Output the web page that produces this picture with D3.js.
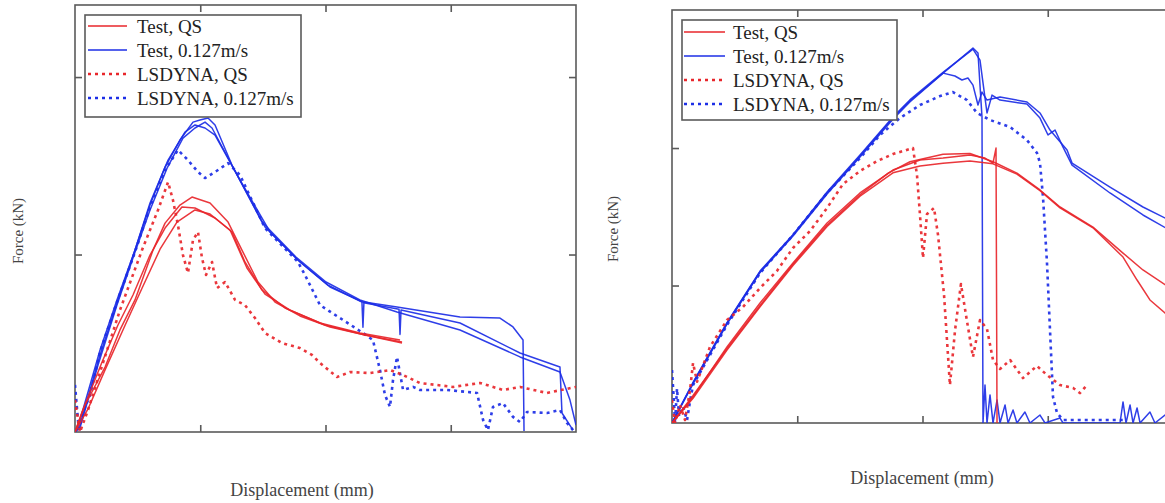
<!DOCTYPE html>
<html>
<head>
<meta charset="utf-8">
<script src="https://cdn.jsdelivr.net/npm/d3@7"></script>
<style>
html,body{margin:0;padding:0;background:#fff;overflow:hidden;}
svg{display:block;}
</style>
</head>
<body>
<svg id="chart" width="1165" height="503"></svg>
<script>
// ---------- tick values (no labels shown in the original) ----------
const xTicks = [0, 10, 20, 30, 40];
const yTicksLeft = [0, 10, 20];
const yTicksRight = [0, 10, 20, 30];
const axisLabelX = "Displacement (mm)";
const axisLabelY = "Force (kN)";
const legendLabels = ["Test, QS", "Test, 0.127m/s", "LSDYNA, QS", "LSDYNA, 0.127m/s"];

// ---------- LEFT panel data [displacement, force] ----------
const leftTestQS1 = [[0,0],[0.8,1.52],[2.4,3.66],[3.59,5.75],[4.79,7.44],[6.23,10.25],[7.19,11.77],[8.38,12.79],[9.34,13.24],[10.78,12.9],[12.22,11.83],[13.33,10.25],[14.61,8.45],[15.97,7.32],[17.96,6.54],[20.36,5.92],[23.15,5.46],[26.11,5.07]];
const leftTestQS2 = [[0,0],[0.56,1.13],[2.16,3.94],[3.43,6.03],[4.63,7.72],[5.99,9.97],[7.19,11.49],[8.54,12.68],[9.58,12.62],[11.18,12.06],[12.53,11.27],[13.57,9.58],[14.93,8.0],[16.77,6.99],[19.56,6.14],[22.75,5.58],[25.95,5.18]];
const leftTestQS3 = [[0,0],[1.04,1.3],[2.4,3.5],[3.99,6.0],[5.35,8.1],[6.79,10.3],[8.14,11.83],[9.58,12.51],[10.78,12.28],[12.38,11.38],[13.73,9.24],[15.17,7.77],[17.17,6.87],[19.96,6.03],[23.15,5.46],[26.11,5.01]];
const leftTestFast1 = [[0,0],[0.4,0.68],[2.0,4.62],[3.35,7.44],[4.79,10.25],[5.99,12.79],[7.19,14.93],[8.38,16.45],[9.42,17.46],[9.98,17.58],[10.62,17.69],[11.18,17.3],[12.53,15.04],[15.17,11.55],[17.8,9.69],[20.2,8.28],[22.91,7.32],[22.99,5.9],[23.07,7.32],[25.71,7.04],[30.74,6.48],[33.93,6.42],[34.97,5.92],[35.77,5.18],[35.85,0.05]];
const leftTestFast2 = [[0,0],[0.4,0.39],[2.0,4.34],[3.43,7.44],[4.79,10.25],[5.99,12.9],[7.43,15.32],[8.78,16.9],[9.58,17.3],[10.38,17.13],[11.18,16.73],[13.17,14.2],[15.57,11.27],[17.96,9.58],[20.36,8.17],[23.15,7.27],[25.87,6.92],[25.95,5.5],[26.03,6.87],[30.74,6.14],[35.53,4.45],[38.72,3.66],[38.88,1.07],[39.76,0.11]];
const leftTestFast3 = [[0,0],[0.4,0.23],[1.84,3.77],[3.35,7.15],[4.71,9.97],[5.99,12.51],[7.35,14.87],[8.62,16.56],[9.58,17.13],[10.38,17.46],[10.94,17.13],[12.22,15.44],[14.93,11.83],[17.64,9.86],[20.04,8.45],[22.75,7.44],[25.71,6.76],[30.74,5.75],[35.53,4.23],[38.72,3.38],[39.52,1.8],[40,0.39]];
const leftDynaQS = [[0,1.8],[0.4,0],[1.04,1.24],[2.0,3.38],[3.59,6.87],[5.35,10.25],[6.63,12.51],[7.43,14.08],[7.82,13.07],[8.22,11.66],[8.62,9.97],[9.02,8.96],[9.42,10.82],[9.82,11.27],[10.14,9.8],[10.46,8.85],[10.94,9.58],[11.34,8.11],[11.98,8.45],[12.78,7.44],[13.57,7.15],[14.37,6.42],[15.17,5.58],[16.53,5.01],[17.96,4.73],[18.92,4.34],[19.56,3.89],[20.92,3.1],[21.96,3.38],[23.55,3.32],[25.15,3.49],[26.19,3.21],[27.54,2.76],[30.18,2.54],[32.34,2.76],[34.17,2.37],[35.53,2.54],[37.68,2.2],[40,2.54]];
const leftDynaFast = [[0,2.65],[0.32,0],[0.56,0.96],[1.2,2.08],[2.0,4.51],[3.35,7.32],[4.79,10.14],[5.99,12.68],[7.19,14.76],[8.22,15.89],[9.02,15.32],[9.82,14.65],[10.38,14.31],[11.18,14.65],[12.22,15.15],[13.17,14.48],[15.17,11.49],[17.8,9.58],[18.36,8.85],[19.56,7.15],[21.16,6.42],[22.99,5.58],[23.79,5.18],[24.35,3.49],[24.75,2.08],[25.15,1.41],[25.39,2.93],[25.71,4.23],[26.19,2.37],[26.99,2.54],[27.54,2.37],[29.7,2.37],[32.1,2.2],[32.58,0.68],[32.97,0.11],[33.37,1.41],[34.17,1.63],[34.97,0.85],[35.53,0.56],[36.09,1.13],[37.68,1.07],[38.72,1.24],[39.28,0.51],[39.76,0.11]];

// ---------- RIGHT panel data [displacement, force] ----------
const rightTestQS1 = [[0,0],[1.68,1.89],[4.39,5.53],[7.03,8.73],[9.66,11.64],[12.38,14.55],[15.01,16.73],[17.64,18.4],[19.8,19.13],[21.64,19.27],[23.79,19.49],[24.99,19.27],[25.63,18.91],[25.87,20.0],[25.95,0]];
const rightTestQS2 = [[0,0],[1.68,2.0],[4.39,5.4],[7.03,8.55],[9.66,11.55],[12.38,14.4],[15.01,16.6],[17.26,18.18],[19.0,19.0],[21.64,19.55],[23.79,19.6],[25.63,19.0],[27.54,18.18],[29.38,16.95],[30.98,15.71],[33.61,14.25],[36.01,12.36],[37.6,11.13],[40,9.67]];
const rightTestQS3 = [[0,0],[1.68,1.8],[4.39,5.3],[7.03,8.45],[9.66,11.45],[12.38,14.3],[15.01,16.5],[17.64,18.2],[19.8,18.7],[21.64,18.9],[23.79,19.05],[25.63,18.85],[27.54,18.1],[29.38,16.9],[30.98,15.65],[33.61,14.2],[36.01,12.07],[37.13,10.4],[38.16,8.95],[39.36,8.0],[40,7.64]];
const rightTestFast1 = [[0,0],[1.68,2.91],[4.39,7.27],[7.03,11.0],[9.66,13.67],[12.38,16.73],[15.01,19.42],[17.64,22.18],[18.99,23.42],[21.64,25.45],[24.03,27.27],[24.43,26.91],[24.75,22.25],[24.83,0],[24.99,2.76],[25.15,0],[25.39,2.04],[25.63,0],[25.95,1.67],[26.19,0],[26.59,1.31],[26.83,0],[27.23,0.95],[27.54,0],[28.18,0.8],[28.58,0],[29.38,0.58],[29.78,0],[30.98,0.36],[31.22,0],[35.77,0],[36.01,1.53],[36.25,0],[36.57,1.31],[36.81,0],[37.13,1.09],[37.37,0],[38.16,0.8],[38.56,0],[39.36,0.58],[40,0.2]];
const rightTestFast2 = [[0,0],[1.68,2.85],[4.39,7.2],[7.03,10.95],[9.66,13.6],[12.38,16.65],[15.01,19.35],[17.64,22.1],[18.99,23.35],[21.64,25.45],[22.59,25.24],[23.15,24.95],[23.63,25.09],[24.03,24.58],[24.43,23.13],[24.75,24.07],[25.15,23.49],[26.19,23.71],[28.34,23.35],[29.38,22.55],[30.18,21.31],[31.54,19.85],[31.94,18.91],[34.97,17.16],[37.6,15.71],[40,14.62]];
const rightTestFast3 = [[0,0],[1.68,2.95],[4.39,7.3],[7.03,11.05],[9.66,13.7],[12.38,16.8],[15.01,19.5],[17.64,22.25],[18.99,23.5],[21.64,25.5],[24.03,27.2],[24.59,26.4],[25.15,22.55],[25.55,23.85],[26.19,23.49],[28.34,23.2],[29.38,22.18],[30.02,20.95],[30.58,21.31],[31.22,20.07],[31.94,18.76],[34.97,16.73],[37.6,15.13],[40,13.89]];
const rightDynaQS = [[0,1.67],[0.24,0],[0.64,1.31],[1.04,0.22],[1.44,2.4],[1.68,4.36],[2.0,3.0],[3.03,5.53],[4.39,7.49],[5.67,8.44],[7.03,9.82],[8.38,11.06],[9.66,12.73],[11.02,13.96],[12.38,15.64],[13.65,17.38],[15.01,18.33],[16.37,19.05],[17.64,19.56],[19.24,20.0],[19.56,18.04],[19.8,15.13],[20.04,12.0],[20.36,15.2],[20.92,15.64],[21.24,13.67],[21.72,9.31],[22.19,2.76],[22.6,6.76],[23.07,10.11],[23.55,7.42],[24.03,4.8],[24.59,7.49],[25.15,6.84],[25.63,4.58],[26.19,3.93],[27.0,4.58],[28.02,3.27],[29.14,4.15],[29.94,3.49],[30.98,2.76],[32.02,2.55],[32.57,2.18],[33.14,2.76]];
const rightDynaFast = [[0,3.85],[0.16,1.5],[0.24,0],[0.4,2.5],[0.56,0.5],[0.88,1.2],[1.2,0.2],[1.44,1.6],[1.68,2.76],[4.39,7.13],[7.03,10.91],[9.66,13.67],[12.38,16.73],[15.01,19.27],[16.61,20.95],[18.2,22.18],[19.8,23.13],[21.4,23.78],[22.43,24.07],[23.55,23.49],[24.35,22.55],[25.39,22.04],[26.99,21.53],[28.34,20.58],[29.14,19.64],[29.38,18.91],[29.62,16.44],[29.94,11.64],[30.18,6.76],[30.42,1.89],[30.74,0.73],[31.22,0.22],[36.01,0.22]];

// ---------- styling ----------
const RED = "#e8262b";
const BLUE = "#1c2ee6";
const FRAME = "#5a5a5a";
const SERIF = "'Liberation Serif', 'Times New Roman', serif";

const svg = d3.select("#chart");

const panels = [
  { id: "L", left: 75, right: 576, top: 5, bottom: 432, yMax: 24.06, yTicks: yTicksLeft,
    legend: { x: 85, y: 15, w: 216, h: 102, lineX0: 88, lineX1: 127, textX: 137, rowY0: 26, rowStep: 24 },
    ylabel: { x: 18, y: 231 }, xlabel: { x: 302, y: 490 },
    series: [
      { data: leftTestFast1, color: BLUE, dashed: false },
      { data: leftTestFast2, color: BLUE, dashed: false },
      { data: leftTestFast3, color: BLUE, dashed: false },
      { data: leftDynaFast, color: BLUE, dashed: true },
      { data: leftTestQS1, color: RED, dashed: false },
      { data: leftTestQS2, color: RED, dashed: false },
      { data: leftTestQS3, color: RED, dashed: false },
      { data: leftDynaQS, color: RED, dashed: true }
    ]},
  { id: "R", left: 672, right: 1173, top: 10, bottom: 423, yMax: 30.04, yTicks: yTicksRight,
    legend: { x: 682, y: 20, w: 215, h: 100, lineX0: 684, lineX1: 725, textX: 733, rowY0: 32, rowStep: 24 },
    ylabel: { x: 613, y: 229 }, xlabel: { x: 922, y: 478 },
    series: [
      { data: rightDynaFast, color: BLUE, dashed: true },
      { data: rightTestFast2, color: BLUE, dashed: false },
      { data: rightTestFast3, color: BLUE, dashed: false },
      { data: rightTestFast1, color: BLUE, dashed: false },
      { data: rightDynaQS, color: RED, dashed: true },
      { data: rightTestQS1, color: RED, dashed: false },
      { data: rightTestQS2, color: RED, dashed: false },
      { data: rightTestQS3, color: RED, dashed: false }
    ]}
];

const legendItems = [
  { color: RED, dashed: false },
  { color: BLUE, dashed: false },
  { color: RED, dashed: true },
  { color: BLUE, dashed: true }
];

panels.forEach(p => {
  const x = d3.scaleLinear().domain([0, 40]).range([p.left, p.right]);
  const y = d3.scaleLinear().domain([0, p.yMax]).range([p.bottom, p.top]);
  const g = svg.append("g");

  const clipId = "clip" + p.id;
  svg.append("clipPath").attr("id", clipId)
    .append("rect").attr("x", p.left).attr("y", p.top)
    .attr("width", p.right - p.left).attr("height", p.bottom - p.top);

  // frame
  g.append("rect").attr("x", p.left).attr("y", p.top)
    .attr("width", p.right - p.left).attr("height", p.bottom - p.top)
    .attr("fill", "none").attr("stroke", FRAME).attr("stroke-width", 1.6);

  // inward ticks via d3 axes (no labels)
  const tl = 7;
  const inner = xTicks.slice(1, -1);
  const innerY = p.yTicks.filter(v => v > 0 && v < p.yMax - 0.5);
  const axes = [
    { ax: d3.axisBottom(x).tickValues(inner), tr: `translate(0,${p.bottom})` },
    { ax: d3.axisTop(x).tickValues(inner), tr: `translate(0,${p.top})` },
    { ax: d3.axisLeft(y).tickValues(innerY), tr: `translate(${p.left},0)` },
    { ax: d3.axisRight(y).tickValues(innerY), tr: `translate(${p.right},0)` }
  ];
  axes.forEach(a => {
    const ag = g.append("g").attr("transform", a.tr)
      .call(a.ax.tickSize(-tl).tickFormat(""));
    ag.select(".domain").remove();
    ag.selectAll("line").attr("stroke", FRAME).attr("stroke-width", 1.6);
  });

  // series
  const line = d3.line().x(d => x(d[0])).y(d => y(d[1]));
  const sg = g.append("g").attr("clip-path", `url(#${clipId})`);
  p.series.forEach(s => {
    sg.append("path").datum(s.data)
      .attr("d", line)
      .attr("fill", "none")
      .attr("stroke", s.color)
      .attr("stroke-width", s.dashed ? 2.6 : 1.5)
      .attr("stroke-dasharray", s.dashed ? "3,4" : null)
      .attr("stroke-linejoin", "round")
      .attr("opacity", 0.92);
  });

  // legend
  const L = p.legend;
  const lg = g.append("g");
  lg.append("rect").attr("x", L.x).attr("y", L.y).attr("width", L.w).attr("height", L.h)
    .attr("fill", "#fff").attr("stroke", FRAME).attr("stroke-width", 1.6);
  legendItems.forEach((it, i) => {
    const yy = L.rowY0 + i * L.rowStep;
    lg.append("line").attr("x1", L.lineX0).attr("x2", L.lineX1).attr("y1", yy).attr("y2", yy)
      .attr("stroke", it.color).attr("stroke-width", it.dashed ? 2.6 : 1.6)
      .attr("stroke-dasharray", it.dashed ? "3,4" : null);
    lg.append("text").attr("x", L.textX).attr("y", yy).attr("dy", "0.35em")
      .attr("font-family", SERIF)
      .attr("font-size", 19).attr("fill", "#222")
      .text(legendLabels[i]);
  });

  // axis titles
  g.append("text").attr("transform", `translate(${p.ylabel.x},${p.ylabel.y}) rotate(-90)`)
    .attr("text-anchor", "middle").attr("dy", "0.35em")
    .attr("font-family", SERIF)
    .attr("font-size", 15).attr("fill", "#444").text(axisLabelY);
  g.append("text").attr("x", p.xlabel.x).attr("y", p.xlabel.y)
    .attr("text-anchor", "middle").attr("dy", "0.35em")
    .attr("font-family", SERIF)
    .attr("font-size", 18).attr("fill", "#444").text(axisLabelX);
});
</script>
</body>
</html>
